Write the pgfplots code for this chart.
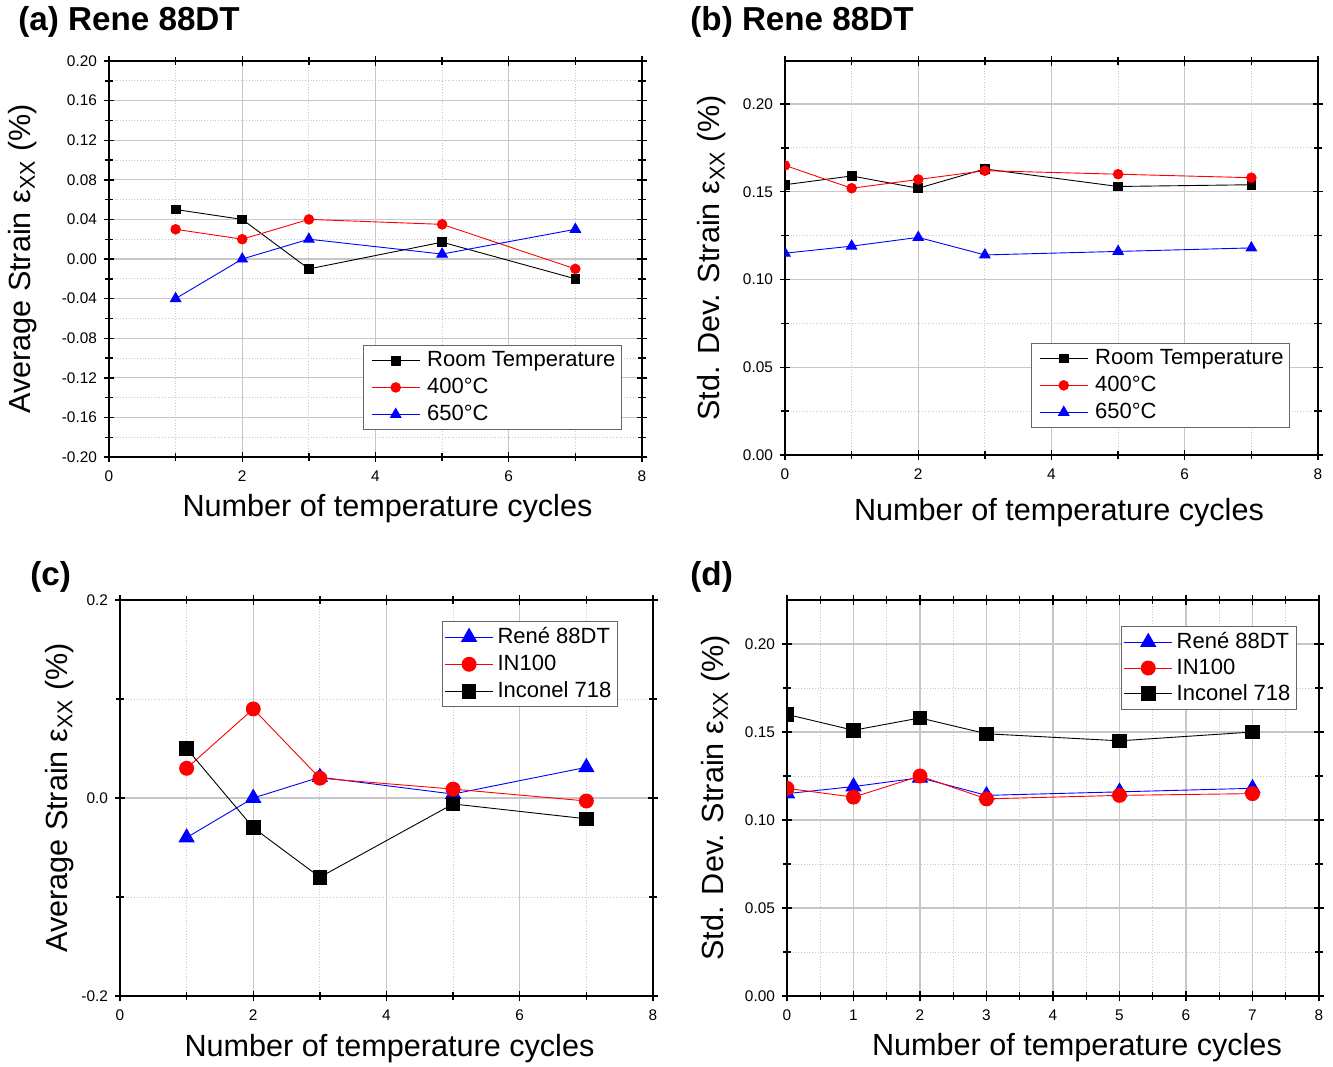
\documentclass[border=0pt]{standalone}
\usepackage{fontspec}
\setmainfont{Liberation Sans}
\usepackage{pgfplots}
\pgfplotsset{compat=1.18}

\pgfplotsset{
 panel/.style={
  scale only axis, width=266.5pt, height=198pt,
  grid=both,
  major grid style={black!22, line width=0.6pt},
  minor grid style={black!22, densely dotted, line width=0.5pt},
  axis line style={line width=0.9pt},
  tick align=center, major tick length=5pt, minor tick length=4pt,
  tick style={black, line width=0.7pt},
  /pgf/number format/assume math mode=true,
  ticklabel style={font=\fontsize{7.7}{9}\selectfont},
  xticklabel style={yshift=-1pt},
  label style={font=\fontsize{15.3}{18}\selectfont},
  legend style={font=\fontsize{11}{13}\selectfont, draw=black!60, line width=0.5pt, inner sep=1pt, row sep=-0.5pt, cells={anchor=west}},
  legend image code/.code={\draw[mark repeat=2,mark phase=2] plot coordinates {(0pt,0pt)(12pt,0pt)(24pt,0pt)};},
  clip marker paths=true,
  xmin=0, xmax=8,
 },
 widelegend/.style={
  legend image code/.code={\path (-3pt,0pt) (25.5pt,0pt);\draw[mark repeat=2,mark phase=2] plot coordinates {(0pt,0pt)(12pt,0pt)(24pt,0pt)};},
 },
 sblack/.style={color=black, line width=0.45pt, mark=square*, mark size=2.2pt, mark options={solid}},
 sred/.style={color=red, line width=0.45pt, mark=*, mark size=2.4pt, mark options={solid}},
 sblue/.style={color=blue, line width=0.45pt, mark=triangle*, mark size=3pt, mark options={solid}},
 bblack/.style={color=black, line width=0.45pt, mark=square*, mark size=3.4pt, mark options={solid}},
 bred/.style={color=red, line width=0.45pt, mark=*, mark size=3.5pt, mark options={solid}},
 bblue/.style={color=blue, line width=0.45pt, mark=triangle*, mark size=4.3pt, mark options={solid}},
}

\begin{document}
\begin{tikzpicture}
\useasboundingbox (0,0) rectangle (666.5pt,-533pt);

% titles
\node[anchor=west, inner sep=0pt, font=\bfseries\fontsize{16.6}{20}\selectfont] at (9pt,-11pt) {(a) Rene 88DT};
\node[anchor=west, inner sep=0pt, font=\bfseries\fontsize{16.6}{20}\selectfont] at (345pt,-11pt) {(b) Rene 88DT};
\node[anchor=west, inner sep=0pt, font=\bfseries\fontsize{16.6}{20}\selectfont] at (15pt,-288.5pt) {(c)};
\node[anchor=west, inner sep=0pt, font=\bfseries\fontsize{16.6}{20}\selectfont] at (345pt,-288.5pt) {(d)};

% (a)
\begin{axis}[panel, widelegend, at={(54.5pt,-228.5pt)}, anchor=south west,
  ymin=-0.2, ymax=0.2,
  xtick={0,2,4,6,8}, minor xtick={1,3,5,7},
  ytick={-0.2,-0.16,-0.12,-0.08,-0.04,0,0.04,0.08,0.12,0.16,0.2},
  minor ytick={-0.18,-0.14,-0.10,-0.06,-0.02,0.02,0.06,0.10,0.14,0.18},
  yticklabel style={/pgf/number format/fixed, /pgf/number format/fixed zerofill, /pgf/number format/precision=2},
  xlabel={Number of temperature cycles},
  ylabel={Average Strain ε\textsubscript{XX} (\%)},
  xlabel style={at={(axis description cs:0.5225,-0.129)}, anchor=center},
  ylabel style={at={(axis description cs:-0.163,0.5)}, anchor=center},
  legend style={at={(axis description cs:0.9625,0.068)}, anchor=south east, row sep=0.3pt},
]
\addplot[sblack] coordinates {(1,0.050) (2,0.040) (3,-0.010) (5,0.017) (7,-0.020)};
\addlegendentry{Room Temperature}
\addplot[sred] coordinates {(1,0.030) (2,0.020) (3,0.040) (5,0.035) (7,-0.010)};
\addlegendentry{400°C}
\addplot[sblue] coordinates {(1,-0.040) (2,0.000) (3,0.020) (5,0.005) (7,0.030)};
\addlegendentry{650°C}
\end{axis}

% (b)
\begin{axis}[panel, widelegend, at={(392.5pt,-227.5pt)}, anchor=south west, height=197pt,
  ymin=0, ymax=0.2245,
  xtick={0,2,4,6,8}, minor xtick={1,3,5,7},
  ytick={0,0.05,0.1,0.15,0.2},
  minor ytick={0.025,0.075,0.125,0.175},
  yticklabel style={/pgf/number format/fixed, /pgf/number format/fixed zerofill, /pgf/number format/precision=2},
  xlabel={Number of temperature cycles},
  ylabel={Std. Dev. Strain ε\textsubscript{XX} (\%)},
  xlabel style={at={(axis description cs:0.514,-0.145)}, anchor=center},
  ylabel style={at={(axis description cs:-0.137,0.5)}, anchor=center},
  legend style={at={(axis description cs:0.9475,0.0685)}, anchor=south east, row sep=0.3pt},
]
\addplot[sblack] coordinates {(0,0.154) (1,0.159) (2,0.152) (3,0.163) (5,0.153) (7,0.154)};
\addlegendentry{Room Temperature}
\addplot[sred] coordinates {(0,0.165) (1,0.152) (2,0.157) (3,0.162) (5,0.160) (7,0.158)};
\addlegendentry{400°C}
\addplot[sblue] coordinates {(0,0.115) (1,0.119) (2,0.124) (3,0.114) (5,0.116) (7,0.118)};
\addlegendentry{650°C}
\end{axis}

% (c)
\begin{axis}[panel, at={(60pt,-498pt)}, anchor=south west,
  ymin=-0.2, ymax=0.2,
  xtick={0,2,4,6,8}, minor xtick={1,3,5,7},
  ytick={-0.2,0,0.2},
  minor ytick={-0.1,0.1},
  yticklabel style={/pgf/number format/fixed, /pgf/number format/fixed zerofill, /pgf/number format/precision=1},
  xlabel={Number of temperature cycles},
  ylabel={Average Strain ε\textsubscript{XX} (\%)},
  xlabel style={at={(axis description cs:0.5056,-0.134)}, anchor=center},
  ylabel style={at={(axis description cs:-0.113,0.5)}, anchor=center},
  legend style={at={(axis description cs:0.934,0.947)}, anchor=north east, row sep=0.2pt},
]
\addplot[bblue] coordinates {(1,-0.040) (2,0.000) (3,0.021) (5,0.004) (7,0.031)};
\addlegendentry{René 88DT}
\addplot[bred] coordinates {(1,0.030) (2,0.090) (3,0.020) (5,0.009) (7,-0.003)};
\addlegendentry{IN100}
\addplot[bblack] coordinates {(1,0.050) (2,-0.030) (3,-0.080) (5,-0.006) (7,-0.021)};
\addlegendentry{Inconel 718}
\end{axis}

% (d)
\begin{axis}[panel, at={(393.5pt,-498pt)}, anchor=south west, width=266pt,
  ymin=0, ymax=0.225,
  xtick={0,1,2,3,4,5,6,7,8}, minor xtick={0.5,1.5,2.5,3.5,4.5,5.5,6.5,7.5},
  ytick={0,0.05,0.1,0.15,0.2},
  minor ytick={0.025,0.075,0.125,0.175},
  yticklabel style={/pgf/number format/fixed, /pgf/number format/fixed zerofill, /pgf/number format/precision=2},
  xlabel={Number of temperature cycles},
  ylabel={Std. Dev. Strain ε\textsubscript{XX} (\%)},
  xlabel style={at={(axis description cs:0.545,-0.129)}, anchor=center},
  ylabel style={at={(axis description cs:-0.135,0.5)}, anchor=center},
  legend style={at={(axis description cs:0.9586,0.934)}, anchor=north east},
]
\addplot[bblue] coordinates {(0,0.115) (1,0.119) (2,0.124) (3,0.114) (5,0.116) (7,0.118)};
\addlegendentry{René 88DT}
\addplot[bred] coordinates {(0,0.118) (1,0.113) (2,0.125) (3,0.112) (5,0.114) (7,0.115)};
\addlegendentry{IN100}
\addplot[bblack] coordinates {(0,0.160) (1,0.151) (2,0.158) (3,0.149) (5,0.145) (7,0.150)};
\addlegendentry{Inconel 718}
\end{axis}
\end{tikzpicture}
\end{document}
